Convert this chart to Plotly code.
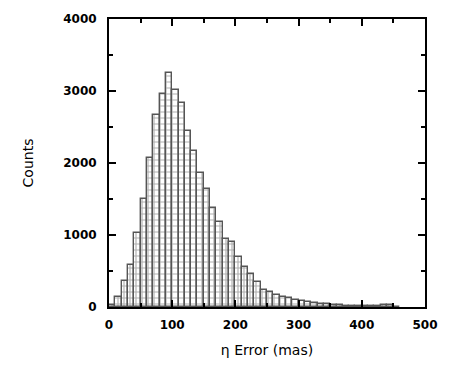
import plotly.graph_objects as go

bin_starts = [0, 10, 20, 30, 40, 50, 60, 70, 80, 90,
              100, 110, 120, 130, 140, 150, 160, 170, 180, 190,
              200, 210, 220, 230, 240, 250, 260, 270, 280, 290,
              300, 310, 320, 330, 340, 350, 360, 370, 380, 390,
              400, 410, 420, 430, 440, 450]
counts = [30, 140, 355, 577, 1026, 1494, 2070, 2662, 2960, 3244,
          3020, 2836, 2443, 2165, 1855, 1645, 1380, 1178, 944, 905,
          691, 554, 455, 345, 230, 210, 170, 145, 120, 100,
          80, 65, 55, 45, 40, 30, 25, 20, 20, 15,
          15, 10, 10, 25, 25, 5]
bin_width = 10
x_ticks = [0, 100, 200, 300, 400, 500]
y_ticks = [0, 1000, 2000, 3000, 4000]

centers = [s + bin_width / 2 for s in bin_starts]

fig = go.Figure(go.Bar(
    x=centers, y=counts, width=bin_width,
    marker=dict(color="white",
                line=dict(color="#555555", width=1.4),
                pattern=dict(shape="+", fgcolor="#606060", bgcolor="white",
                             size=6, solidity=0.35)),
))

font_tick = dict(family="DejaVu Sans, sans-serif", size=12, color="black", weight="bold")
title_font = dict(family="DejaVu Sans, sans-serif", size=14, color="black")
axis_common = dict(showline=True, linecolor="black", linewidth=2, mirror="allticks",
                   ticks="inside", ticklen=7, tickwidth=2, tickcolor="black",
                   showgrid=False, zeroline=False, tickfont=font_tick)

fig.update_xaxes(range=[0, 500], tickvals=x_ticks, ticklabelstandoff=6,
                 minor=dict(ticks="inside", ticklen=4, tickwidth=2, dtick=50, tickcolor="black"),
                 title=dict(text="η Error (mas)", font=title_font, standoff=14),
                 **axis_common)
fig.update_yaxes(range=[0, 4000], tickvals=y_ticks, ticklabelstandoff=8,
                 minor=dict(ticks="inside", ticklen=4, tickwidth=2, dtick=500, tickcolor="black"),
                 title=dict(text="Counts", font=title_font, standoff=26),
                 **axis_common)

fig.update_layout(width=450, height=370, margin=dict(l=109, r=17, t=16, b=63),
                  plot_bgcolor="white", paper_bgcolor="white", showlegend=False, bargap=0)
fig.write_html("out.html")
